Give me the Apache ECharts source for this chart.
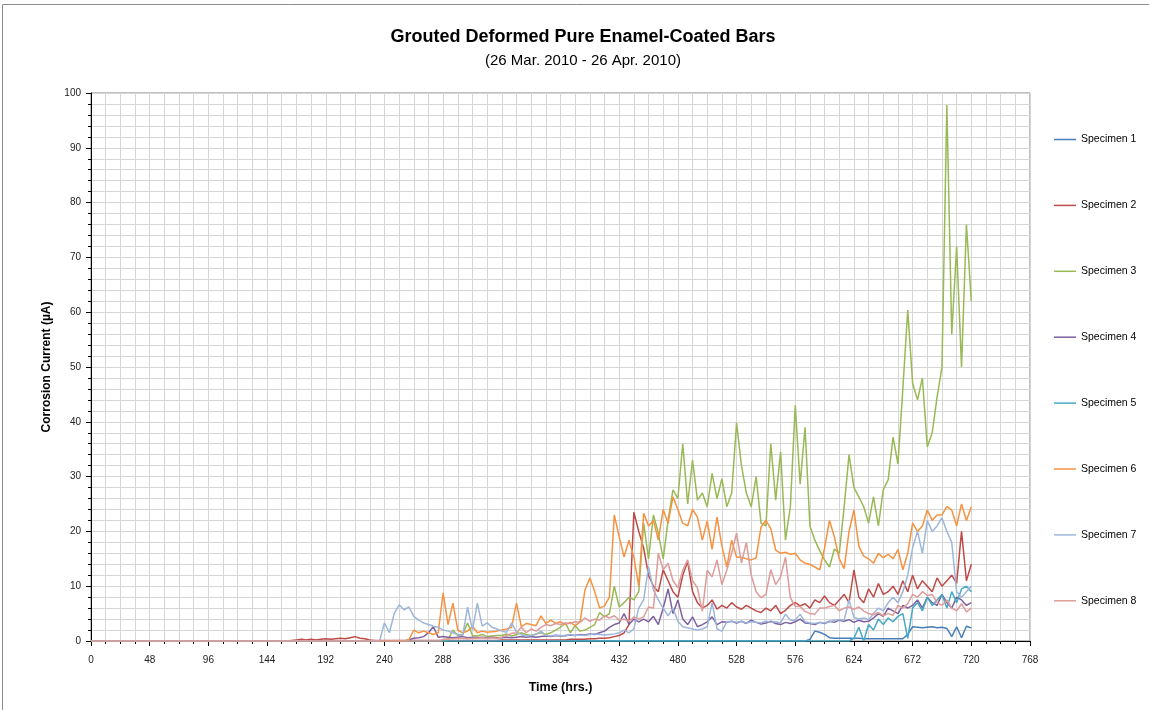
<!DOCTYPE html>
<html><head><meta charset="utf-8">
<script src="https://cdn.jsdelivr.net/npm/echarts@6/dist/echarts.min.js"></script>
<style>html,body{margin:0;padding:0;background:#fff}#c{width:1149px;height:710px}</style>
</head><body><div id="c"></div>
<script>
const titleText = 'Grouted Deformed Pure Enamel-Coated Bars';
const subtitleText = '(26 Mar. 2010 - 26 Apr. 2010)';
const xName = 'Time (hrs.)';
const yName = 'Corrosion Current (µA)';
const names = ['Specimen 1','Specimen 2','Specimen 3','Specimen 4','Specimen 5','Specimen 6','Specimen 7','Specimen 8'];
const colors = ['#4A7EBB','#BE4B48','#98B954','#7D60A0','#46AAC5','#F69240','#9DB6DB','#DE9B99'];

const hours = [
0,4,8,12,16,20,24,28,32,36,40,44,
48,52,56,60,64,68,72,76,80,84,88,92,
96,100,104,108,112,116,120,124,128,132,136,140,
144,148,152,156,160,164,168,172,176,180,184,188,
192,196,200,204,208,212,216,220,224,228,232,236,
240,244,248,252,256,260,264,268,272,276,280,284,
288,292,296,300,304,308,312,316,320,324,328,332,
336,340,344,348,352,356,360,364,368,372,376,380,
384,388,392,396,400,404,408,412,416,420,424,428,
432,436,440,444,448,452,456,460,464,468,472,476,
480,484,488,492,496,500,504,508,512,516,520,524,
528,532,536,540,544,548,552,556,560,564,568,572,
576,580,584,588,592,596,600,604,608,612,616,620,
624,628,632,636,640,644,648,652,656,660,664,668,
672,676,680,684,688,692,696,700,704,708,712,716,
720];

const specimen1 = [
0,0,0,0,0,0,0,0,0,0,0,0,
0,0,0,0,0,0,0,0,0,0,0,0,
0,0,0,0,0,0,0,0,0,0,0,0,
0,0,0,0,0,0,0,0,0,0,0,0,
0,0,0,0,0,0,0,0,0,0,0,0,
0,0,0,0,0,0,0,0,0,0,0,0,
0,0,0,0,0,0,0,0,0,0,0,0,
0,0,0,0,0,0,0,0,0,0,0,0,
0,0,0,0,0,0,0,0,0,0,0,0,
0,0,0,0,0,0,0,0,0,0,0,0,
0,0,0,0,0,0,0,0,0,0,0,0,
0,0,0,0,0,0,0,0,0,0,0,0,
0,0,0,0.3,1.8,1.6,1.2,0.6,0.5,0.5,0.5,0.5,
0.5,0.5,0.4,0.4,0.4,0.4,0.4,0.4,0.4,0.4,0.4,1.2,
2.6,2.5,2.4,2.5,2.6,2.4,2.5,2.3,0.8,2.6,0.6,2.7,
2.4];

const specimen2 = [
0,0,0,0,0,0,0,0,0,0,0,0,
0,0,0,0,0,0,0,0,0,0,0,0,
0,0,0,0,0,0,0,0,0,0,0,0,
0,0,0,0,0,0.1,0.2,0.3,0.2,0.3,0.2,0.3,
0.4,0.3,0.4,0.5,0.4,0.6,0.8,0.5,0.4,0.2,0.1,0.1,
0.1,0.1,0.1,0.1,0.1,0.1,0.1,0.1,0.1,0.1,0.1,0.1,
0.1,0.1,0.1,0.1,0.1,0.1,0.1,0.1,0.1,0.1,0.1,0.1,
0.2,0.2,0.2,0.2,0.2,0.2,0.2,0.2,0.2,0.2,0.2,0.2,
0.2,0.2,0.3,0.3,0.3,0.3,0.4,0.4,0.5,0.5,0.6,0.8,
1.0,1.5,3,23.5,20,17,12,10,9,13,11,9,
8,12,14.5,9,7,6,6.5,7.5,5.8,6.5,6,7,
6.2,5.8,6.5,6,5.5,5.2,6,5.5,6.5,5,5.6,6.5,
7,6.4,6.8,6,7.5,7,8.2,7,6.5,7.5,8.5,7,
13,8,7,9.5,8,10.5,8.5,9,10,8.5,11,9,
12,9.5,11,10,9,11.5,10,11,12,10.5,20,11,
14];

const specimen3 = [
0,0,0,0,0,0,0,0,0,0,0,0,
0,0,0,0,0,0,0,0,0,0,0,0,
0,0,0,0,0,0,0,0,0,0,0,0,
0,0,0,0,0,0,0,0,0,0,0,0,
0,0,0,0,0,0,0,0,0,0,0,0,
0,0,0,0,0,0,0,0,0,0,0,0,
0,0.2,2,1,1.2,3.3,1,0.9,1.2,0.8,0.9,1.0,
1.0,1.3,0.9,1.2,1.5,1.2,1.0,1.3,1.5,1.2,1.5,2.0,
2.5,3.3,1.5,2.8,1.8,2,2.5,3,5.2,4.4,5,10,
6.2,7,8,7.5,9,21.5,15,23,19.7,15,22,27.6,
26,36,25,33,25.7,27,24.5,30.6,26,29.6,24.5,27,
39.8,32,27,24.5,30,21.5,21,36,25.7,34.5,18.4,24.5,
43,28.6,39,21,18.4,16.5,14.8,13.5,16.8,16,24.5,34,
28,26.3,24.5,21.5,26.3,21,27.6,29.4,37.2,32.3,46,60.4,
47,44,48,35.4,38,44.5,50,97.8,56,72,50,76,
62];

const specimen4 = [
0,0,0,0,0,0,0,0,0,0,0,0,
0,0,0,0,0,0,0,0,0,0,0,0,
0,0,0,0,0,0,0,0,0,0,0,0,
0,0,0,0,0,0,0,0,0,0,0,0,
0,0,0,0,0,0,0,0,0,0,0,0,
0,0,0,0,0,0.2,0.5,0.6,0.8,1.5,2.6,0.7,
0.8,0.7,0.6,0.7,0.8,0.6,0.7,0.6,0.7,0.6,0.7,0.6,
0.6,0.7,0.6,0.7,0.8,0.7,0.8,0.7,0.8,0.9,0.8,1.0,
0.9,1.0,1.1,1.0,1.2,1.1,1.3,1.2,1.5,1.8,2.5,3,
3.3,5,3,4,3.5,4,3.5,4.5,3,6,9.5,5,
7.5,4,3,4.4,2.6,3,3.5,4.4,3,3.5,3.4,3.6,
3.3,3.6,3.2,3.8,3.4,3.1,3.3,3.6,3.2,3.0,3.4,3.2,
3.5,4.0,3.3,3.2,3.0,3.4,3.2,3.6,3.4,3.8,3.6,3.9,
3.4,3.8,3.5,3.6,4.2,5,4.5,6,5.5,5,6.5,6,
6.5,7.5,6,8,7,6.5,8.5,7,6,8,7.5,6.5,
7];

const specimen5 = [
0,0,0,0,0,0,0,0,0,0,0,0,
0,0,0,0,0,0,0,0,0,0,0,0,
0,0,0,0,0,0,0,0,0,0,0,0,
0,0,0,0,0,0,0,0,0,0,0,0,
0,0,0,0,0,0,0,0,0,0,0,0,
0,0,0,0,0,0,0,0,0,0,0,0,
0,0,0,0,0,0,0,0,0,0,0,0,
0,0,0,0,0,0,0,0,0,0,0,0,
0,0,0,0,0,0,0,0,0,0,0,0,
0,0,0,0,0,0,0,0,0,0,0,0,
0,0,0,0,0,0,0,0,0,0,0,0,
0,0,0,0,0,0,0,0,0,0,0,0,
0,0,0,0,0,0,0,0,0,0,0,0,
0.5,2.5,0,3,2,4,3,4.2,3.5,4.5,5,0.5,
6,7,5.5,8,6.5,7.5,8.5,6,9,7,9.5,10,
9];

const specimen6 = [
0,0,0,0,0,0,0,0,0,0,0,0,
0,0,0,0,0,0,0,0,0,0,0,0,
0,0,0,0,0,0,0,0,0,0,0,0,
0,0,0,0,0,0,0,0,0,0,0,0,
0,0,0,0,0,0,0,0,0,0,0,0,
0,0,0,0,0,0.2,2,1.5,1.8,1.5,1.2,1.5,
8.8,3,6.9,2,1.5,1.8,2.7,1.5,1.8,1.6,1.7,1.8,
2,2.2,2.5,6.9,2.6,3.2,3,2.8,4.6,3.2,3.8,3.2,
3.5,3,3.4,2.8,3.5,9.3,11.5,9,6,6.4,8,23,
19,15.3,18.4,15.3,10,23.3,21,22,18.4,24,21.5,26.3,
24,21.5,21,24,22.6,18.4,21.9,16.7,22.6,17.3,13.5,18.4,
15.3,15.3,15,14.8,15.2,20.8,22,20.5,16.6,16,16.2,15.8,
16,14.8,14.2,14,13.5,13,17,22,19,15,13.2,20,
23.9,17.3,15.5,15,14.2,16,15.2,15.8,15,16.7,13,16,
21.5,20,21,23.9,22,23,23,24.5,23.9,21,25,22,
24.5];

const specimen7 = [
0,0,0,0,0,0,0,0,0,0,0,0,
0,0,0,0,0,0,0,0,0,0,0,0,
0,0,0,0,0,0,0,0,0,0,0,0,
0,0,0,0,0,0,0,0,0,0,0,0,
0,0,0,0,0,0,0,0,0,0,0,0,
3.3,1.5,5,6.6,5.7,6.2,4.5,3.8,3.3,3,2.7,2.5,
2,1.8,1.5,1.2,1.0,6.2,2,6.9,2.7,3.3,2.5,2.2,
1.8,1.6,3.3,1.6,1.2,0.9,1.0,1.2,1.8,1.0,0.9,1.1,
1.0,0.9,1.2,1.0,1.1,1.0,1.2,1.3,1.2,1.1,1.2,1.3,
1.5,2,1.5,2.2,6,7.5,13.5,9.3,7.5,6,4.6,6,
3.6,2.6,2.4,2.2,2.0,2.2,2.6,7,2.2,1.8,3.5,3.6,
3.4,3.6,3.3,3.5,3.4,3.3,3.6,3.4,3.5,3.3,4.9,3.8,
3.8,4.9,3.5,3.3,3.2,3.4,3.3,3.5,3.8,3.9,3.8,7.5,
4.3,4,4.2,3.9,5,6,5.5,7,8,7,9,12,
17,20,16,22,20,21,22.5,20,18,9,8,9,
10];

const specimen8 = [
0,0,0,0,0,0,0,0,0,0,0,0,
0,0,0,0,0,0,0,0,0,0,0,0,
0,0,0,0,0,0,0,0,0,0,0,0,
0,0,0,0,0,0,0,0,0,0,0,0,
0,0,0,0,0,0,0,0,0,0,0,0,
0,0,0,0,0,0,0,0,0,0,0,0,
0.3,0.4,0.4,0.5,0.5,0.4,0.5,0.5,0.6,0.5,0.6,0.5,
0.7,1.0,1.4,1.5,2.5,1.5,2.2,1.8,2.5,3,2.8,3.2,
3,3.3,3.2,3.5,3.4,4.2,3.6,4,3.8,4.6,4.2,4.6,
3.8,4,3.6,4.4,4,4.4,6.2,6,16,13,14.2,11,
9.7,12.9,14.8,11,9.7,5.4,12.9,11.7,14.8,10.3,12.9,16,
19.7,14.2,18,12,9,7.9,8.5,13,10.3,11.7,15.3,7.9,
6.3,6.3,5.4,5,4.9,6,6,6.3,6.5,5.5,6,6.2,
5.8,6.2,5.5,5.0,4.8,5.2,4.6,5.0,4.7,6.5,6,6.8,
8.5,8,9,8.3,8.5,7,6.5,7.5,6,5.5,6.8,5.3,
6];

const allValues = [specimen1, specimen2, specimen3, specimen4, specimen5, specimen6, specimen7, specimen8];
const FONT = '"Liberation Sans", Arial, sans-serif';

const chart = echarts.init(document.getElementById('c'), null, {renderer: 'canvas'});
const series = names.map((n, k) => ({
  name: n,
  type: 'line',
  data: hours.map((h, i) => [h, allValues[k][i]]),
  symbol: 'none',
  showSymbol: false,
  lineStyle: {color: colors[k], width: 1.5},
  itemStyle: {color: colors[k]},
  emphasis: {disabled: true},
  z: 2 + k
}));

chart.setOption({
  animation: false,
  backgroundColor: '#fff',
  textStyle: {fontFamily: FONT},
  graphic: [
    {type: 'rect', shape: {x: 2.5, y: 4.5, width: 1300, height: 1000}, style: {fill: 'none', stroke: '#8a8a8a', lineWidth: 1}, silent: true, z: 0},
    {type: 'text', x: 583, y: 37, style: {text: titleText, align: 'center', verticalAlign: 'middle', font: 'bold 18px ' + FONT, fill: '#000'}},
    {type: 'text', x: 583, y: 61, style: {text: subtitleText, align: 'center', verticalAlign: 'middle', font: '15px ' + FONT, fill: '#000'}}
  ],
  legend: {
    orient: 'vertical',
    left: 1049, top: 129,
    icon: 'rect',
    itemWidth: 22, itemHeight: 1.5, itemGap: 54.9,
    textStyle: {fontSize: 10.5, color: '#000', fontFamily: FONT},
    data: names
  },
  grid: {left: 91, top: 93, right: 119, bottom: 69, show: true, borderColor: '#7f7f7f', borderWidth: 1, backgroundColor: 'transparent'},
  xAxis: {
    type: 'value', min: 0, max: 768, interval: 48,
    name: xName, nameLocation: 'middle', nameGap: 40,
    nameTextStyle: {fontSize: 12.5, fontWeight: 'bold', color: '#000', fontFamily: FONT},
    axisLine: {lineStyle: {color: '#000', width: 1}},
    axisTick: {show: true, length: 5, lineStyle: {color: '#000'}},
    minorTick: {show: true, splitNumber: 4, length: 3, lineStyle: {color: '#000'}},
    axisLabel: {fontSize: 10, color: '#222', margin: 14, fontFamily: FONT},
    splitLine: {show: true, lineStyle: {color: '#d6d6d6', width: 1}},
    minorSplitLine: {show: true, lineStyle: {color: '#d6d6d6', width: 1}}
  },
  yAxis: {
    type: 'value', min: 0, max: 100, interval: 10,
    name: yName, nameLocation: 'middle', nameGap: 38, nameRotate: 90,
    nameTextStyle: {fontSize: 12, fontWeight: 'bold', color: '#000', fontFamily: FONT},
    axisLine: {show: true, lineStyle: {color: '#000', width: 1}},
    axisTick: {show: true, length: 5, lineStyle: {color: '#000'}},
    minorTick: {show: true, splitNumber: 5, length: 3, lineStyle: {color: '#000'}},
    axisLabel: {fontSize: 10, color: '#222', margin: 10, fontFamily: FONT},
    splitLine: {show: true, lineStyle: {color: '#d6d6d6', width: 1}},
    minorSplitLine: {show: true, lineStyle: {color: '#d6d6d6', width: 1}}
  },
  series: series
});
</script>
</body></html>
